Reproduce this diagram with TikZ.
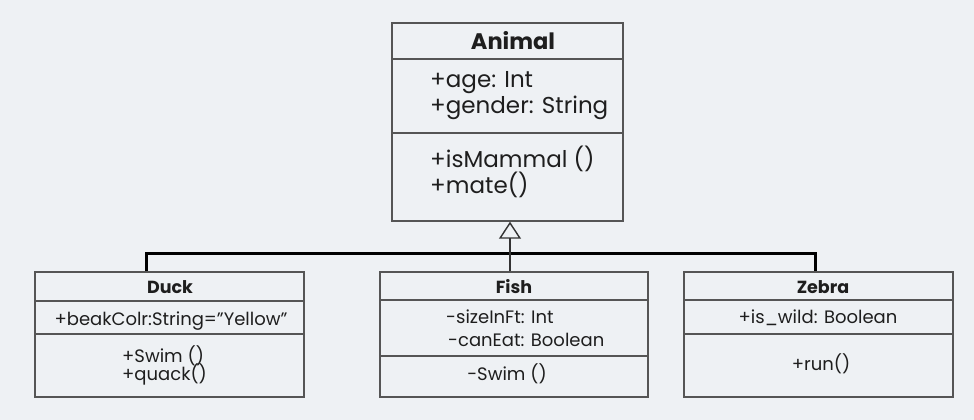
\documentclass[tikz,border=0pt]{standalone}
\usepackage{fontspec}
\setmainfont{Poppins}
\usetikzlibrary{arrows.meta}
\definecolor{bg}{HTML}{EEF1F4}
\definecolor{boxline}{HTML}{555555}
\definecolor{ink}{HTML}{1E1E1E}
\tikzset{
  classbox/.style={draw=boxline, line width=1.4pt, fill=bg, inner sep=0pt},
  divider/.style={draw=boxline, line width=1.4pt},
  bigtxt/.style={inner sep=0pt, text=ink, font=\fontsize{23}{25}\selectfont},
  bigtitle/.style={inner sep=0pt, text=ink, font=\fontsize{22.5}{25}\selectfont\bfseries},
  smalltxt/.style={inner sep=0pt, text=ink, font=\fontsize{18}{18}\selectfont},
  smalltitle/.style={inner sep=0pt, text=ink, font=\fontsize{17.5}{18}\selectfont\bfseries},
  bar/.style={draw=black, line width=3pt},
  stem/.style={draw=boxline!60!black, line width=2pt},
}
\begin{document}
\begin{tikzpicture}[x=1pt,y=-1pt]
\fill[bg] (0,0) rectangle (974,420);
\useasboundingbox (0,0) rectangle (974,420);

% Animal
\node[classbox, minimum width=231pt, minimum height=198pt] (animal) at (507.5,122) {};
\draw[divider] (animal.west |- 0,59) -- (animal.east |- 0,59);
\draw[divider] (animal.west |- 0,133) -- (animal.east |- 0,133);
\node[bigtitle, anchor=base] (atitle) at (513,50) {Animal};
\node[bigtxt, anchor=base west] (a1) at (430,88) {+age: Int};
\node[bigtxt, anchor=base west] (a2) at (430,113) {+gender: String};
\node[bigtxt, anchor=base west] (a3) at (430,167) {+isMammal ()};
\node[bigtxt, anchor=base west] (a4) at (430,193) {+mate()};

% Duck
\node[classbox, minimum width=269pt, minimum height=125pt] (duck) at (169.5,334.5) {};
\draw[divider] (duck.west |- 0,301) -- (duck.east |- 0,301);
\draw[divider] (duck.west |- 0,334) -- (duck.east |- 0,334);
\node[smalltitle, anchor=base] (dtitle) at (170,293) {Duck};
\node[smalltxt, anchor=base] (d1) at (171,325) {+beakColr:String=”Yellow”};
\node[smalltxt, anchor=base west] (d2) at (122,362) {+Swim ()};
\node[smalltxt, anchor=base west] (d3) at (122,380) {+quack()};

% Fish
\node[classbox, minimum width=268pt, minimum height=125pt] (fish) at (514,334.5) {};
\draw[divider] (fish.west |- 0,300) -- (fish.east |- 0,300);
\draw[divider] (fish.west |- 0,356) -- (fish.east |- 0,356);
\node[smalltitle, anchor=base] (ftitle) at (514,293) {Fish};
\node[smalltxt, anchor=base west] (f1) at (446,323) {-sizeInFt: Int};
\node[smalltxt, anchor=base west] (f2) at (448,346) {-canEat: Boolean};
\node[smalltxt, anchor=base] (f3) at (507,380) {-Swim ()};

% Zebra
\node[classbox, minimum width=269pt, minimum height=125pt] (zebra) at (818.5,334.5) {};
\draw[divider] (zebra.west |- 0,300) -- (zebra.east |- 0,300);
\draw[divider] (zebra.west |- 0,334) -- (zebra.east |- 0,334);
\node[smalltitle, anchor=base] (ztitle) at (823,293) {Zebra};
\node[smalltxt, anchor=base] (z1) at (818,323) {+is\_wild: Boolean};
\node[smalltxt, anchor=base] (z2) at (821,370) {+run()};

% Connectors
\coordinate (barL) at (146,253);
\coordinate (barM) at (510,253);
\coordinate (barR) at (815,253);
\draw[bar, line join=miter] (duck.north -| barL) -- (barL) -- (barR) -- (zebra.north -| barR);
\draw[stem] (fish.north -| barM) -- (barM);
\draw[stem, -{Triangle[open, length=17pt, width=22pt, line width=1.4pt]}] (barM) -- (animal.south -| barM);
\end{tikzpicture}
\end{document}
